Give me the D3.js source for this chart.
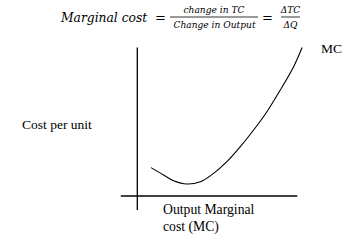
<!DOCTYPE html>
<html>
<head>
<meta charset="utf-8">
<script src="https://cdn.jsdelivr.net/npm/d3@7"></script>
<style>
html,body{margin:0;padding:0;background:#fff;}
svg{display:block;}
.serif{font-family:"Liberation Serif", "Times New Roman", Times, serif;}
.math{font-family:"DejaVu Serif", "Liberation Serif", serif;}
</style>
</head>
<body>
<svg id="chart" width="345" height="246"></svg>
<script>
// ---- data (output units vs cost per unit) ----
const mcOutput = [0.86, 1.64, 2.27, 3.1, 3.94, 4.77, 5.6, 6.44, 7.27, 8.1, 8.94, 9.77, 10.3];
const mcCost   = [1.89, 1.4, 1.02, 0.8, 0.95, 1.51, 2.29, 3.29, 4.4, 5.62, 7.07, 8.62, 9.9];
const xAxisExtent = [-1.03, 10];
const yAxisExtent = [-0.93, 9.9];
const seriesLabel = "MC";
const yAxisLabel = "Cost per unit";
const xAxisLabelLines = ["Output Marginal", "cost (MC)"];
const formulaLeft = "Marginal cost";
const formulaNum1 = "change in TC";
const formulaDen1 = "Change in Output";
const formulaNum2 = "\u0394TC";
const formulaDen2 = "\u0394Q";

const svg = d3.select("#chart");
const x = d3.scaleLinear().domain([0, 10]).range([137.3, 297.3]);
const y = d3.scaleLinear().domain([0, 10]).range([196, 46]);

// axes (plain lines, no ticks)
svg.append("line")
  .attr("x1", x(xAxisExtent[0])).attr("x2", x(xAxisExtent[1]))
  .attr("y1", y(0)).attr("y2", y(0))
  .attr("stroke", "#000").attr("stroke-width", 1.3);
svg.append("line")
  .attr("x1", x(0)).attr("x2", x(0))
  .attr("y1", y(yAxisExtent[0])).attr("y2", y(yAxisExtent[1]))
  .attr("stroke", "#000").attr("stroke-width", 1.3);

// MC curve
const pts = mcOutput.map((d, i) => [d, mcCost[i]]);
const line = d3.line().x(d => x(d[0])).y(d => y(d[1])).curve(d3.curveCatmullRom.alpha(0.5));
svg.append("path").datum(pts)
  .attr("d", line)
  .attr("fill", "none").attr("stroke", "#000").attr("stroke-width", 1.1);

function label(cls, xx, yy, size, txt, opts = {}) {
  const t = svg.append("text").attr("class", cls).attr("x", xx).attr("y", yy)
    .attr("font-size", size).attr("fill", "#000").text(txt);
  if (opts.italic) t.attr("font-style", "italic");
  if (opts.anchor) t.attr("text-anchor", opts.anchor);
  if (opts.len) t.attr("textLength", opts.len);
  return t;
}

label("serif", 321, 53, 13.5, seriesLabel);
label("serif", 22, 129, 13.5, yAxisLabel);
label("serif", 163, 213.5, 13.7, xAxisLabelLines[0]);
label("serif", 163, 230.7, 13.7, xAxisLabelLines[1]);

// formula
label("math", 61, 22, 12.3, formulaLeft, {italic: true});
label("math", 160.5, 21.5, 13, "=", {anchor: "middle"});
label("math", 214, 13.3, 9.1, formulaNum1, {italic: true, anchor: "middle"});
svg.append("line").attr("x1", 170).attr("x2", 258).attr("y1", 17).attr("y2", 17)
  .attr("stroke", "#000").attr("stroke-width", 0.8);
label("math", 214.5, 28.3, 9.1, formulaDen1, {italic: true, anchor: "middle"});
label("math", 267.5, 21.5, 13, "=", {anchor: "middle"});
label("math", 290.5, 13.3, 9.1, formulaNum2, {italic: true, anchor: "middle"});
svg.append("line").attr("x1", 281).attr("x2", 300).attr("y1", 17).attr("y2", 17)
  .attr("stroke", "#000").attr("stroke-width", 0.8);
label("math", 290.5, 28.3, 9.1, formulaDen2, {italic: true, anchor: "middle"});
</script>
</body>
</html>
